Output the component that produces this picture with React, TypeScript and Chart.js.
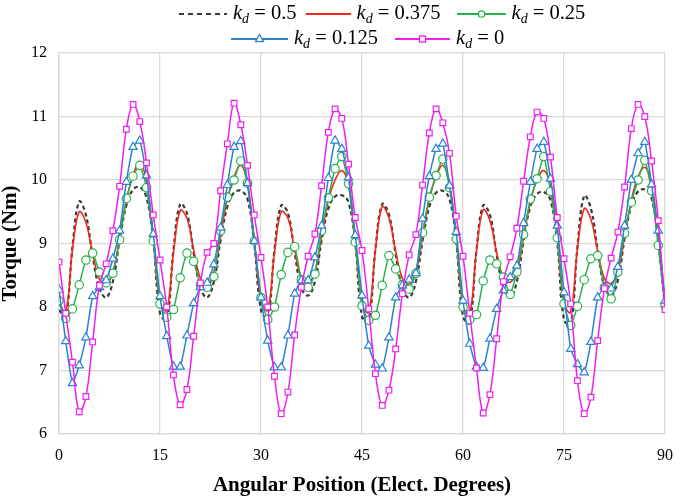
import React, { useEffect, useRef } from "react";
import { Chart, registerables } from "chart.js";

Chart.register(...registerables);

const ANGLES = [
  0, 1, 2, 3, 4, 5, 6, 7, 8, 9, 10, 11, 12, 13, 14,
  15, 16, 17, 18, 19, 20, 21, 22, 23, 24, 25, 26, 27, 28, 29,
  30, 31, 32, 33, 34, 35, 36, 37, 38, 39, 40, 41, 42, 43, 44,
  45, 46, 47, 48, 49, 50, 51, 52, 53, 54, 55, 56, 57, 58, 59,
  60, 61, 62, 63, 64, 65, 66, 67, 68, 69, 70, 71, 72, 73, 74,
  75, 76, 77, 78, 79, 80, 81, 82, 83, 84, 85, 86, 87, 88, 89,
  90,
];

const X_TICKS = [0, 15, 30, 45, 60, 75, 90];
const Y_TICKS = [6, 7, 8, 9, 10, 11, 12];

const KD_050 = [
  7.95, 7.85, 8.95, 9.66, 9.45, 8.8, 8.3, 8.15, 8.4, 9.05, 9.6, 9.85, 9.89, 9.72, 9.05,
  7.9, 7.8, 8.9, 9.62, 9.48, 8.85, 8.3, 8.15, 8.4, 9.05, 9.58, 9.8, 9.83, 9.7, 9.0,
  7.95, 7.82, 8.9, 9.6, 9.48, 8.85, 8.3, 8.18, 8.4, 9.05, 9.55, 9.74, 9.76, 9.65, 9.0,
  7.85, 7.78, 8.92, 9.62, 9.46, 8.83, 8.3, 8.15, 8.4, 9.05, 9.58, 9.8, 9.83, 9.7, 9.02,
  7.85, 7.75, 8.9, 9.6, 9.45, 8.82, 8.3, 8.15, 8.4, 9.05, 9.58, 9.78, 9.81, 9.68, 9.02,
  7.8, 7.72, 8.95, 9.75, 9.55, 8.9, 8.32, 8.18, 8.42, 9.08, 9.6, 9.82, 9.85, 9.72, 9.02,
  8.0,
];

const KD_0375 = [
  8.05, 7.92, 8.9, 9.5, 9.33, 8.84, 8.44, 8.36, 8.55, 9.1, 9.68, 10.07, 10.28, 9.97, 9.1,
  8.05, 7.95, 8.85, 9.52, 9.4, 8.9, 8.45, 8.36, 8.55, 9.12, 9.7, 10.05, 10.23, 9.95, 9.05,
  8.1, 7.95, 8.85, 9.5, 9.4, 8.9, 8.45, 8.38, 8.55, 9.12, 9.68, 10.0, 10.15, 9.92, 9.05,
  8.05, 7.92, 8.9, 9.58, 9.4, 8.88, 8.45, 8.36, 8.55, 9.12, 9.7, 10.05, 10.23, 9.95, 9.1,
  8.02, 7.9, 8.88, 9.53, 9.36, 8.86, 8.45, 8.39, 8.55, 9.1, 9.65, 10.0, 10.15, 9.9, 9.1,
  8.05, 7.92, 8.92, 9.55, 9.38, 8.88, 8.45, 8.37, 8.55, 9.12, 9.68, 10.05, 10.2, 9.95, 9.08,
  8.05,
];

const KD_025 = [
  8.1, 7.82, 7.97, 8.35, 8.74, 8.85, 8.55, 8.38, 8.53, 9.06, 9.71, 10.06, 10.23, 9.88, 9.04,
  8.05, 7.84, 7.96, 8.46, 8.85, 8.72, 8.35, 8.31, 8.48, 9.2, 9.73, 10.0, 10.3, 9.95, 9.04,
  8.15, 7.8, 8.0, 8.51, 8.86, 8.95, 8.43, 8.31, 8.52, 9.2, 9.72, 10.18, 10.37, 9.94, 9.02,
  8.02, 7.79, 7.87, 8.34, 8.81, 8.6, 8.35, 8.28, 8.53, 9.17, 9.73, 10.07, 10.33, 9.88, 9.07,
  8.0, 7.8, 7.88, 8.41, 8.74, 8.68, 8.47, 8.2, 8.55, 9.14, 9.7, 10.02, 10.37, 9.82, 9.09,
  8.05, 7.71, 8.01, 8.43, 8.76, 8.81, 8.31, 8.13, 8.55, 9.16, 9.65, 10.0, 10.31, 9.83, 8.97,
  8.02,
];

const KD_0125 = [
  8.27, 7.46, 6.8, 7.08, 7.52, 8.17, 8.31, 8.42, 8.76, 9.2, 9.97, 10.52, 10.62, 10.07, 9.15,
  8.17, 7.54, 7.06, 7.06, 7.55, 8.06, 8.31, 8.38, 8.67, 9.25, 9.92, 10.52, 10.61, 9.95, 9.04,
  8.15, 7.47, 7.05, 7.05, 7.55, 8.21, 8.42, 8.42, 8.78, 9.28, 10.03, 10.62, 10.49, 10.04, 9.13,
  8.18, 7.39, 7.09, 7.03, 7.52, 8.15, 8.34, 8.43, 8.53, 9.39, 10.06, 10.49, 10.57, 9.91, 9.18,
  8.1, 7.42, 7.06, 7.04, 7.5, 7.97, 8.26, 8.47, 8.65, 9.32, 9.97, 10.49, 10.6, 10.02, 9.28,
  8.23, 7.34, 7.1, 6.97, 7.45, 8.15, 8.31, 8.29, 8.63, 9.28, 10.0, 10.42, 10.6, 9.93, 9.2,
  8.1,
];

const KD_000 = [
  8.71, 7.9, 7.13, 6.35, 6.59, 7.45, 8.34, 8.68, 9.2, 9.9, 10.8, 11.19, 10.92, 10.27, 9.45,
  8.74, 8.0, 6.93, 6.46, 6.7, 7.54, 8.38, 8.86, 9.0, 9.83, 10.57, 11.21, 10.87, 10.23, 9.45,
  8.78, 8.0, 6.91, 6.32, 6.66, 7.56, 8.31, 8.8, 9.15, 9.91, 10.75, 11.12, 10.97, 10.25, 9.41,
  8.89, 7.97, 6.95, 6.45, 6.69, 7.34, 8.21, 8.82, 9.14, 9.92, 10.74, 11.12, 10.9, 10.42, 9.43,
  8.8, 7.9, 7.04, 6.33, 6.62, 7.5, 8.4, 8.79, 9.24, 9.98, 10.68, 11.07, 10.97, 10.36, 9.41,
  8.76, 8.05, 6.84, 6.32, 6.58, 7.47, 8.29, 8.77, 9.18, 9.89, 10.81, 11.19, 11.0, 10.3, 9.36,
  7.96,
];

const SERIES_LABELS = ["0.5", "0.375", "0.25", "0.125", "0"];

const C_BLACK = "#3a3a3a";
const C_RED = "#f2281c";
const C_GREEN = "#27b34b";
const C_BLUE = "#2c82cc";
const C_MAGENTA = "#f01ef0";

const SERIF = "'Liberation Serif', 'Times New Roman', serif";

function KdLabel({ v }: { v: string }) {
  return (
    <span style={{ whiteSpace: "nowrap" }}>
      <span style={{ fontStyle: "italic" }}>k</span>
      <span
        style={{
          fontStyle: "italic",
          fontSize: "0.68em",
          position: "relative",
          top: "0.3em",
        }}
      >
        d
      </span>
      {" = " + v}
    </span>
  );
}

function Sample({
  w,
  color,
  dash,
  marker,
}: {
  w: number;
  color: string;
  dash?: string;
  marker?: "circle" | "triangle" | "rect";
}) {
  const cx = w / 2;
  const cy = 7;
  return (
    <svg width={w} height={14} style={{ display: "block" }}>
      <line
        x1={0}
        y1={cy}
        x2={w}
        y2={cy}
        stroke={color}
        strokeWidth={dash ? 2 : 1.8}
        strokeDasharray={dash}
      />
      {marker === "circle" && (
        <circle cx={cx} cy={cy} r={3.2} fill="#fff" stroke={color} strokeWidth={1.3} />
      )}
      {marker === "triangle" && (
        <polygon
          points={`${cx},${cy - 4.5} ${cx + 4},${cy + 2.6} ${cx - 4},${cy + 2.6}`}
          fill="#fff"
          stroke={color}
          strokeWidth={1.3}
        />
      )}
      {marker === "rect" && (
        <rect x={cx - 3} y={cy - 3} width={6} height={6} fill="#fff" stroke={color} strokeWidth={1.3} />
      )}
    </svg>
  );
}

export default function App() {
  const ref = useRef<HTMLCanvasElement>(null);

  useEffect(() => {
    if (!ref.current) return;
    const pts = (ys: number[]) => ys.map((y, i) => ({ x: ANGLES[i], y }));
    const chart = new Chart(ref.current, {
      type: "line",
      data: {
        datasets: [
          {
            label: SERIES_LABELS[0],
            data: pts(KD_050),
            borderColor: C_BLACK,
            borderWidth: 2.2,
            borderDash: [4, 3],
            pointRadius: 0,
            tension: 0.4,
            order: 5,
          },
          {
            label: SERIES_LABELS[1],
            data: pts(KD_0375),
            borderColor: C_RED,
            borderWidth: 1.6,
            pointRadius: 0,
            tension: 0.4,
            order: 4,
          },
          {
            label: SERIES_LABELS[2],
            data: pts(KD_025),
            borderColor: C_GREEN,
            borderWidth: 1.5,
            pointStyle: "circle",
            pointRadius: 4.2,
            pointBorderWidth: 1.2,
            pointBorderColor: C_GREEN,
            pointBackgroundColor: "#ffffff",
            tension: 0.15,
            order: 3,
          },
          {
            label: SERIES_LABELS[3],
            data: pts(KD_0125),
            borderColor: C_BLUE,
            borderWidth: 1.5,
            pointStyle: "triangle",
            pointRadius: 4.8,
            pointBorderWidth: 1.2,
            pointBorderColor: C_BLUE,
            pointBackgroundColor: "#ffffff",
            tension: 0.15,
            order: 2,
          },
          {
            label: SERIES_LABELS[4],
            data: pts(KD_000),
            borderColor: C_MAGENTA,
            borderWidth: 1.5,
            pointStyle: "rect",
            pointRadius: 4,
            pointBorderWidth: 1.2,
            pointBorderColor: C_MAGENTA,
            pointBackgroundColor: "#ffffff",
            tension: 0.4,
            order: 1,
          },
        ],
      },
      options: {
        animation: false,
        responsive: false,
        maintainAspectRatio: false,
        events: [],
        layout: { padding: { top: 53, right: 10, left: 0, bottom: 0 } },
        plugins: {
          legend: { display: false },
          tooltip: { enabled: false },
        },
        scales: {
          x: {
            type: "linear",
            min: 0,
            max: 90,
            afterBuildTicks: (scale: any) => {
              scale.ticks = X_TICKS.map((v) => ({ value: v }));
            },
            afterFit: (scale: any) => {
              scale.height = 64;
            },
            ticks: {
              padding: 12,
              color: "#000",
              font: { family: SERIF, size: 16 },
              maxRotation: 0,
            },
            grid: { color: "#d9d9d9", lineWidth: 1.3, drawTicks: false },
            border: { color: "#d9d9d9", width: 1.3 },
            title: {
              display: true,
              text: "Angular Position (Elect. Degrees)",
              color: "#000",
              font: { family: SERIF, size: 21, weight: "bold", lineHeight: 1.2 },
              padding: { top: 0, bottom: 0 },
            },
          },
          y: {
            type: "linear",
            min: 6,
            max: 12,
            afterBuildTicks: (scale: any) => {
              scale.ticks = Y_TICKS.map((v) => ({ value: v }));
            },
            afterFit: (scale: any) => {
              scale.width = 59;
            },
            ticks: {
              padding: 12,
              color: "#000",
              font: { family: SERIF, size: 16 },
            },
            grid: { color: "#d9d9d9", lineWidth: 1.3, drawTicks: false },
            border: { color: "#d9d9d9", width: 1.3 },
            title: {
              display: true,
              text: "Torque (Nm)",
              color: "#000",
              font: { family: SERIF, size: 21, weight: "bold", lineHeight: 1.0 },
              padding: { top: 0, bottom: 0 },
            },
          },
        },
      },
    });
    return () => chart.destroy();
  }, []);

  const textStyle: React.CSSProperties = {
    fontFamily: SERIF,
    fontSize: 20.5,
    color: "#000",
    lineHeight: "24px",
  };

  const item = (
    w: number,
    color: string,
    label: string,
    gapAfter: number,
    dash?: string,
    marker?: "circle" | "triangle" | "rect"
  ) => (
    <div style={{ display: "flex", alignItems: "center", marginRight: gapAfter }}>
      <Sample w={w} color={color} dash={dash} marker={marker} />
      <div style={{ marginLeft: 6, ...textStyle }}>
        <KdLabel v={label} />
      </div>
    </div>
  );

  return (
    <div
      style={{
        position: "fixed",
        left: 0,
        top: 0,
        width: 685,
        height: 498,
        background: "#fff",
        overflow: "hidden",
      }}
    >
      <canvas
        ref={ref}
        width={685}
        height={498}
        style={{ display: "block", width: 685, height: 498 }}
      />
      <div style={{ position: "absolute", left: 179, top: 0, display: "flex", alignItems: "center" }}>
        {item(48, C_BLACK, SERIES_LABELS[0], 9, "5 4")}
        {item(45, C_RED, SERIES_LABELS[1], 16)}
        {item(49, C_GREEN, SERIES_LABELS[2], 0, undefined, "circle")}
      </div>
      <div style={{ position: "absolute", left: 231, top: 25, display: "flex", alignItems: "center" }}>
        {item(57, C_BLUE, SERIES_LABELS[3], 17, undefined, "triangle")}
        {item(55, C_MAGENTA, SERIES_LABELS[4], 0, undefined, "rect")}
      </div>
    </div>
  );
}
